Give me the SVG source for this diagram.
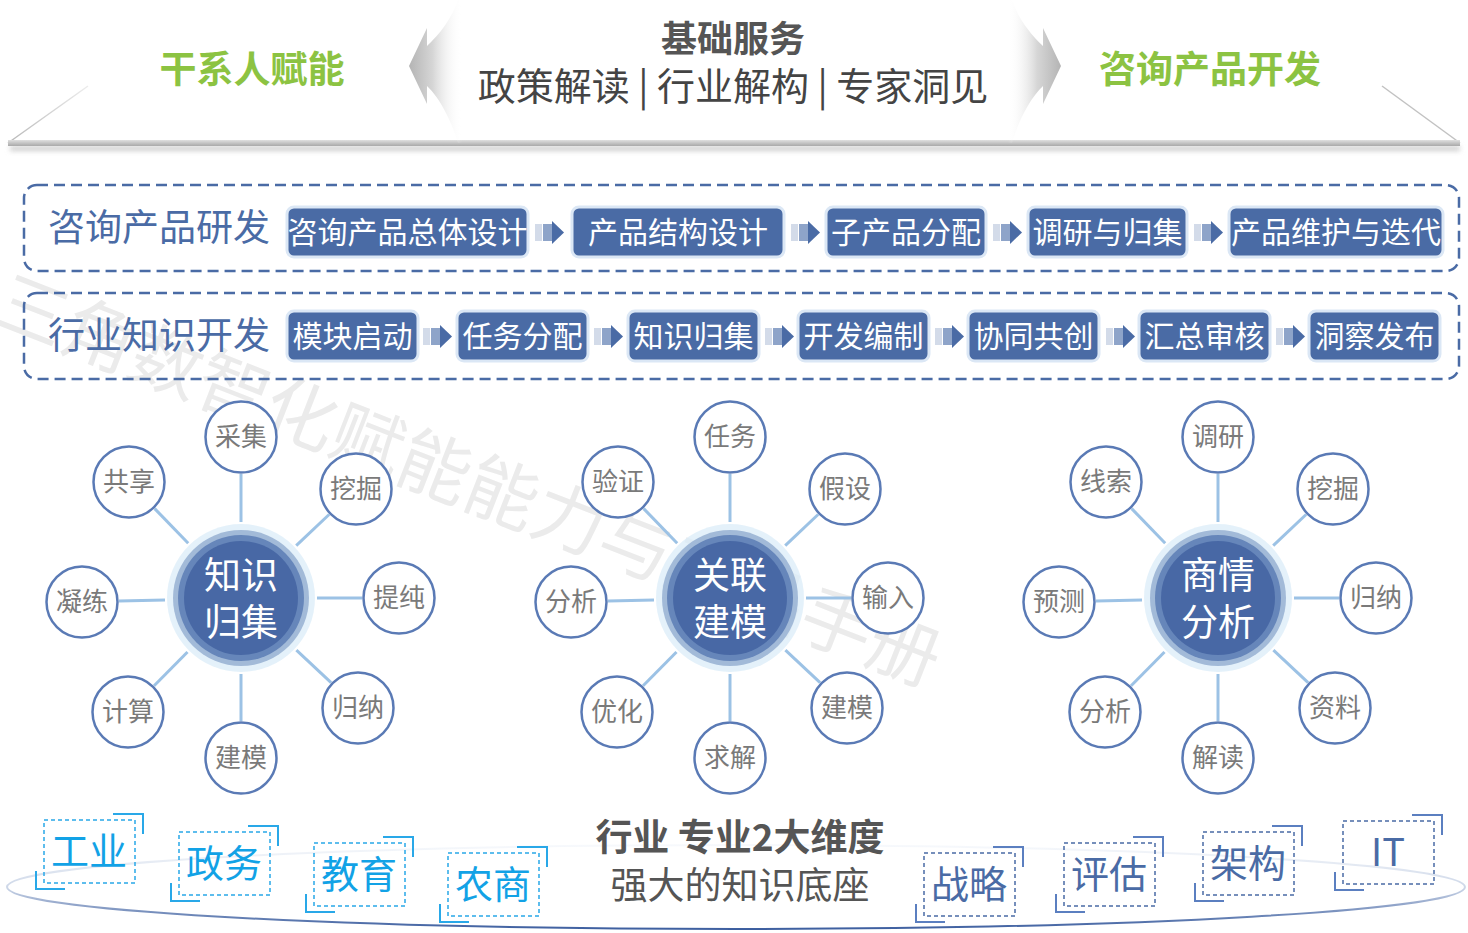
<svg xmlns="http://www.w3.org/2000/svg" xmlns:xlink="http://www.w3.org/1999/xlink" width="1468" height="933" viewBox="0 0 1468 933">
<defs>
<style>
text{font-family:"Noto Sans CJK SC","Noto Sans",sans-serif}
.green{fill:#8cc342;font-size:37px;font-weight:700;text-anchor:middle}
.title{fill:#555;font-size:36px;font-weight:700;text-anchor:middle}
.sub{fill:#444;font-size:38px;text-anchor:middle}
.dash{fill:none;stroke:#4a6ba5;stroke-width:2.5;stroke-dasharray:11 6}
.rowlab{fill:#4a6ba5;font-size:37px}
.box{fill:#4a6ba5;stroke:#dbe7f5;stroke-width:3}
.bt{fill:#fff;font-size:30px;text-anchor:middle}
.sat{fill:#fff;stroke:#5a7ab5;stroke-width:2.5}
.st{fill:#7a7a7a;font-size:26px;text-anchor:middle}
.ct{fill:#fff;font-size:37px;text-anchor:middle}
.conn{stroke:#9cc2e5;stroke-width:3;fill:none}
.tagl .d{fill:none;stroke:#29a8e8;stroke-width:1.5;stroke-dasharray:4 3}
.tagl .b{fill:none;stroke:#29a8e8;stroke-width:2}
.tagl text{fill:#12a2e6;font-size:38px;text-anchor:middle}
.tagr .d{fill:none;stroke:#4a6ba5;stroke-width:1.5;stroke-dasharray:4 3}
.tagr .b{fill:none;stroke:#5b7fc0;stroke-width:2}
.tagr text{fill:#4a6ba5;font-size:38px;text-anchor:middle}
.bot{fill:#555;font-size:37px;text-anchor:middle}
</style>
<linearGradient id="arrG" gradientUnits="userSpaceOnUse" x1="409" y1="0" x2="462" y2="0">
<stop offset="0" stop-color="#b4b4b4"/>
<stop offset="0.45" stop-color="#d6d6d6"/>
<stop offset="1" stop-color="#ffffff" stop-opacity="0"/>
</linearGradient>
<linearGradient id="barG" x1="0" y1="0" x2="0" y2="1">
<stop offset="0" stop-color="#e0e0e0"/>
<stop offset="1" stop-color="#a9a9a9"/>
</linearGradient>
<linearGradient id="diagG" x1="0" y1="1" x2="1" y2="0">
<stop offset="0" stop-color="#b8b8b8"/>
<stop offset="1" stop-color="#ececec"/>
</linearGradient>
<linearGradient id="ellG" gradientUnits="userSpaceOnUse" x1="0" y1="845" x2="0" y2="930">
<stop offset="0" stop-color="#f7f9fc"/>
<stop offset="0.5" stop-color="#cdd7e8"/>
<stop offset="1" stop-color="#3a5c9e"/>
</linearGradient>
<filter id="blur" x="-5%" y="-100%" width="110%" height="300%"><feGaussianBlur stdDeviation="2.5"/></filter>
<g id="arr">
<rect x="0" y="3" width="7" height="17" fill="#d3dbe9"/>
<rect x="8" y="3" width="9" height="17" fill="#8ea4c9"/>
<polygon points="17,0 29,11.5 17,23" fill="#4a6ba5"/>
</g>
<path id="bigArrow" d="M409,66 L427,28 L427,46 C440,34 452,18 458,0 L462,0 L462,143 L458,143 C452,122 440,98 427,86 L427,104 Z" fill="url(#arrG)"/>
</defs>

<!-- watermark -->
<g id="watermark" transform="translate(-1,297) rotate(21.3)">
<text x="0" y="26" font-size="72" fill="#ebebeb">三角数智化赋能能力与产品手册</text>
</g>

<!-- top banner -->
<g id="banner">
<line x1="8" y1="143" x2="88" y2="86" stroke="url(#diagG)" stroke-width="1.5"/>
<line x1="1460" y1="143" x2="1382" y2="86" stroke="#c2c2c2" stroke-width="1.5"/>
<rect x="10" y="146" width="1450" height="5" fill="#cfcfcf" filter="url(#blur)"/>
<rect x="8" y="140" width="1452" height="6" fill="url(#barG)"/>
<use xlink:href="#bigArrow"/>
<use xlink:href="#bigArrow" transform="translate(1470,0) scale(-1,1)"/>
<text class="green" x="252" y="83">干系人赋能</text>
<text class="green" x="1210" y="83">咨询产品开发</text>
<text class="title" x="733" y="52">基础服务</text>
<text class="sub" x="733" y="100">政策解读 | 行业解构 | 专家洞见</text>
</g>

<!-- row 1 -->
<g id="row1">
<rect class="dash" x="24" y="185" width="1435" height="86" rx="13"/>
<text class="rowlab" x="48" y="241">咨询产品研发</text>
</g>
<g id="r1n1"><rect class="box" x="287" y="207" width="241" height="50" rx="7"/><text class="bt" x="407.5" y="243" font-size="29">咨询产品总体设计</text></g>
<g id="r1n2"><rect class="box" x="572" y="207" width="212" height="50" rx="7"/><text class="bt" x="678" y="243">产品结构设计</text></g>
<g id="r1n3"><rect class="box" x="826" y="207" width="160" height="50" rx="7"/><text class="bt" x="906" y="243">子产品分配</text></g>
<g id="r1n4"><rect class="box" x="1028" y="207" width="159" height="50" rx="7"/><text class="bt" x="1107.5" y="243">调研与归集</text></g>
<g id="r1n5"><rect class="box" x="1229" y="207" width="214" height="50" rx="7"/><text class="bt" x="1336" y="243">产品维护与迭代</text></g>

<!-- row 2 -->
<g id="row2">
<rect class="dash" x="24" y="293" width="1435" height="86" rx="13"/>
<text class="rowlab" x="48" y="349">行业知识开发</text>
</g>
<g id="r2n1"><rect class="box" x="287" y="311" width="131" height="50" rx="7"/><text class="bt" x="352.5" y="347">模块启动</text></g>
<g id="r2n2"><rect class="box" x="457" y="311" width="131" height="50" rx="7"/><text class="bt" x="522.5" y="347">任务分配</text></g>
<g id="r2n3"><rect class="box" x="628" y="311" width="131" height="50" rx="7"/><text class="bt" x="693.5" y="347">知识归集</text></g>
<g id="r2n4"><rect class="box" x="798" y="311" width="131" height="50" rx="7"/><text class="bt" x="863.5" y="347">开发编制</text></g>
<g id="r2n5"><rect class="box" x="968" y="311" width="131" height="50" rx="7"/><text class="bt" x="1033.5" y="347">协同共创</text></g>
<g id="r2n6"><rect class="box" x="1139" y="311" width="131" height="50" rx="7"/><text class="bt" x="1204.5" y="347">汇总审核</text></g>
<g id="r2n7"><rect class="box" x="1309" y="311" width="131" height="50" rx="7"/><text class="bt" x="1374.5" y="347">洞察发布</text></g>

<!-- connectors -->
<g id="connectors">
<use xlink:href="#arr" x="535" y="221"/>
<use xlink:href="#arr" x="791" y="221"/>
<use xlink:href="#arr" x="993" y="221"/>
<use xlink:href="#arr" x="1194" y="221"/>
<use xlink:href="#arr" x="423" y="325"/>
<use xlink:href="#arr" x="594" y="325"/>
<use xlink:href="#arr" x="765" y="325"/>
<use xlink:href="#arr" x="935" y="325"/>
<use xlink:href="#arr" x="1106" y="325"/>
<use xlink:href="#arr" x="1276" y="325"/>
<g id="spokes1" transform="translate(241,598)" class="conn">
<line x1="0" y1="-76" x2="0" y2="-124"/>
<line x1="-52.8" y1="-54.7" x2="-86.3" y2="-89.4"/>
<line x1="55.2" y1="-52.3" x2="88.1" y2="-83.5"/>
<line x1="-76" y1="1.9" x2="-122" y2="3.1"/>
<line x1="76" y1="0" x2="121" y2="0"/>
<line x1="-53.5" y1="54" x2="-86.9" y2="87.7"/>
<line x1="55.4" y1="52.1" x2="90.1" y2="84.7"/>
<line x1="0" y1="76" x2="0" y2="123"/>
</g>
<g id="spokes2" transform="translate(730,598)" class="conn">
<line x1="0" y1="-76" x2="0" y2="-124"/>
<line x1="-52.8" y1="-54.7" x2="-86.3" y2="-89.4"/>
<line x1="55.2" y1="-52.3" x2="88.1" y2="-83.5"/>
<line x1="-76" y1="1.9" x2="-122" y2="3.1"/>
<line x1="76" y1="0" x2="121" y2="0"/>
<line x1="-53.5" y1="54" x2="-86.9" y2="87.7"/>
<line x1="55.4" y1="52.1" x2="90.1" y2="84.7"/>
<line x1="0" y1="76" x2="0" y2="123"/>
</g>
<g id="spokes3" transform="translate(1218,598)" class="conn">
<line x1="0" y1="-76" x2="0" y2="-124"/>
<line x1="-52.8" y1="-54.7" x2="-86.3" y2="-89.4"/>
<line x1="55.2" y1="-52.3" x2="88.1" y2="-83.5"/>
<line x1="-76" y1="1.9" x2="-122" y2="3.1"/>
<line x1="76" y1="0" x2="121" y2="0"/>
<line x1="-53.5" y1="54" x2="-86.9" y2="87.7"/>
<line x1="55.4" y1="52.1" x2="90.1" y2="84.7"/>
<line x1="0" y1="76" x2="0" y2="123"/>
</g>
</g>

<!-- cluster 1 -->
<g id="c1" transform="translate(241,598)">
<circle r="74" fill="#dbecf8" opacity="0.75"/>
<circle r="68" fill="#a2bad8"/>
<circle r="63" fill="#6686ba"/>
<circle r="57" fill="#4868a5"/>
<text class="ct"><tspan x="0" y="-9">知识</tspan><tspan x="0" y="38">归集</tspan></text>
</g>
<g id="c1s1" transform="translate(241,437)"><circle class="sat" r="35.5"/><text class="st" y="9">采集</text></g>
<g id="c1s2" transform="translate(129,482)"><circle class="sat" r="35.5"/><text class="st" y="9">共享</text></g>
<g id="c1s3" transform="translate(356,489)"><circle class="sat" r="35.5"/><text class="st" y="9">挖掘</text></g>
<g id="c1s4" transform="translate(82,602)"><circle class="sat" r="35.5"/><text class="st" y="9">凝练</text></g>
<g id="c1s5" transform="translate(399,598)"><circle class="sat" r="35.5"/><text class="st" y="9">提纯</text></g>
<g id="c1s6" transform="translate(128,712)"><circle class="sat" r="35.5"/><text class="st" y="9">计算</text></g>
<g id="c1s7" transform="translate(358,708)"><circle class="sat" r="35.5"/><text class="st" y="9">归纳</text></g>
<g id="c1s8" transform="translate(241,758)"><circle class="sat" r="35.5"/><text class="st" y="9">建模</text></g>

<!-- cluster 2 -->
<g id="c2" transform="translate(730,598)">
<circle r="74" fill="#dbecf8" opacity="0.75"/>
<circle r="68" fill="#a2bad8"/>
<circle r="63" fill="#6686ba"/>
<circle r="57" fill="#4868a5"/>
<text class="ct"><tspan x="0" y="-9">关联</tspan><tspan x="0" y="38">建模</tspan></text>
</g>
<g id="c2s1" transform="translate(730,437)"><circle class="sat" r="35.5"/><text class="st" y="9">任务</text></g>
<g id="c2s2" transform="translate(618,482)"><circle class="sat" r="35.5"/><text class="st" y="9">验证</text></g>
<g id="c2s3" transform="translate(845,489)"><circle class="sat" r="35.5"/><text class="st" y="9">假设</text></g>
<g id="c2s4" transform="translate(571,602)"><circle class="sat" r="35.5"/><text class="st" y="9">分析</text></g>
<g id="c2s5" transform="translate(888,598)"><circle class="sat" r="35.5"/><text class="st" y="9">输入</text></g>
<g id="c2s6" transform="translate(617,712)"><circle class="sat" r="35.5"/><text class="st" y="9">优化</text></g>
<g id="c2s7" transform="translate(847,708)"><circle class="sat" r="35.5"/><text class="st" y="9">建模</text></g>
<g id="c2s8" transform="translate(730,758)"><circle class="sat" r="35.5"/><text class="st" y="9">求解</text></g>

<!-- cluster 3 -->
<g id="c3" transform="translate(1218,598)">
<circle r="74" fill="#dbecf8" opacity="0.75"/>
<circle r="68" fill="#a2bad8"/>
<circle r="63" fill="#6686ba"/>
<circle r="57" fill="#4868a5"/>
<text class="ct"><tspan x="0" y="-9">商情</tspan><tspan x="0" y="38">分析</tspan></text>
</g>
<g id="c3s1" transform="translate(1218,437)"><circle class="sat" r="35.5"/><text class="st" y="9">调研</text></g>
<g id="c3s2" transform="translate(1106,482)"><circle class="sat" r="35.5"/><text class="st" y="9">线索</text></g>
<g id="c3s3" transform="translate(1333,489)"><circle class="sat" r="35.5"/><text class="st" y="9">挖掘</text></g>
<g id="c3s4" transform="translate(1059,602)"><circle class="sat" r="35.5"/><text class="st" y="9">预测</text></g>
<g id="c3s5" transform="translate(1376,598)"><circle class="sat" r="35.5"/><text class="st" y="9">归纳</text></g>
<g id="c3s6" transform="translate(1105,712)"><circle class="sat" r="35.5"/><text class="st" y="9">分析</text></g>
<g id="c3s7" transform="translate(1335,708)"><circle class="sat" r="35.5"/><text class="st" y="9">资料</text></g>
<g id="c3s8" transform="translate(1218,758)"><circle class="sat" r="35.5"/><text class="st" y="9">解读</text></g>

<!-- bottom base -->
<g id="base">
<ellipse cx="736" cy="887" rx="729" ry="42" fill="none" stroke="url(#ellG)" stroke-width="2"/>
<text class="bot" x="740" y="851" font-weight="700">行业 专业2大维度</text>
<text class="bot" x="740" y="899">强大的知识底座</text>
</g>

<g id="t1" class="tagl" transform="translate(44,820)"><rect class="d" width="91" height="63"/><path class="b" d="M69,-6H99V14M-8,51V69H21"/><text x="45" y="45">工业</text></g>
<g id="t2" class="tagl" transform="translate(179,832)"><rect class="d" width="91" height="63"/><path class="b" d="M69,-6H99V14M-8,51V69H21"/><text x="45" y="45">政务</text></g>
<g id="t3" class="tagl" transform="translate(314,843)"><rect class="d" width="91" height="63"/><path class="b" d="M69,-6H99V14M-8,51V69H21"/><text x="45" y="45">教育</text></g>
<g id="t4" class="tagl" transform="translate(448,853)"><rect class="d" width="91" height="63"/><path class="b" d="M69,-6H99V14M-8,51V69H21"/><text x="45" y="45">农商</text></g>
<g id="t5" class="tagr" transform="translate(924,853)"><rect class="d" width="91" height="63"/><path class="b" d="M69,-6H99V14M-8,51V69H21"/><text x="45" y="45">战略</text></g>
<g id="t6" class="tagr" transform="translate(1064,843)"><rect class="d" width="91" height="63"/><path class="b" d="M69,-6H99V14M-8,51V69H21"/><text x="45" y="45">评估</text></g>
<g id="t7" class="tagr" transform="translate(1203,832)"><rect class="d" width="91" height="63"/><path class="b" d="M69,-6H99V14M-8,51V69H21"/><text x="45" y="45">架构</text></g>
<g id="t8" class="tagr" transform="translate(1343,821)"><rect class="d" width="91" height="63"/><path class="b" d="M69,-6H99V14M-8,51V69H21"/><text x="45" y="45">IT</text></g>
</svg>
